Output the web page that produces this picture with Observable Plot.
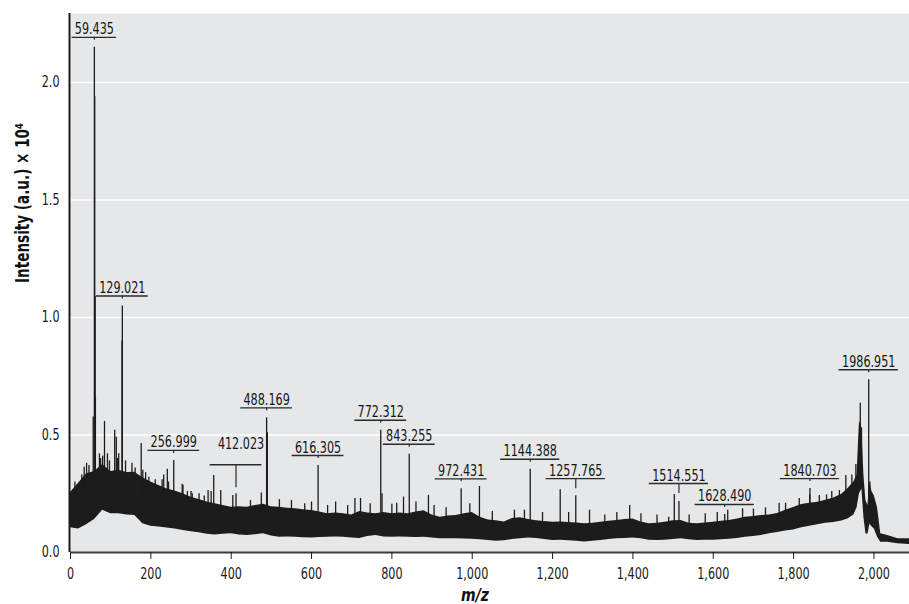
<!DOCTYPE html>
<html>
<head>
<meta charset="utf-8">
<script src="https://cdn.jsdelivr.net/npm/d3@7"></script>
<script src="https://cdn.jsdelivr.net/npm/@observablehq/plot@0.6"></script>
<style>
  html, body { margin: 0; padding: 0; background: #ffffff; }
  #chart svg { display: block; }
</style>
</head>
<body>
<div id="chart"></div>
<script>
// Noise band of the spectrum: lower and upper edge of the dense signal, by m/z
const bandMz = [0,20,40,60,80,100,120,140,160,180,200,220,240,260,280,300,320,340,360,380,400,420,440,460,480,500,520,540,560,580,600,620,640,660,680,700,720,740,760,780,800,820,840,860,880,900,920,940,960,980,1000,1020,1040,1060,1080,1100,1120,1140,1160,1180,1200,1220,1240,1260,1280,1300,1320,1340,1360,1380,1400,1420,1440,1460,1480,1500,1520,1540,1560,1580,1600,1620,1640,1660,1680,1700,1720,1740,1760,1780,1800,1820,1840,1860,1880,1900,1920,1935,1950,1958,1964,1970,1975,1980,1985,1990,1995,2001,2009,2017,2034,2060,2089];
const bandLow = [0.105,0.100,0.118,0.140,0.180,0.165,0.165,0.160,0.157,0.122,0.112,0.108,0.104,0.100,0.094,0.088,0.084,0.078,0.074,0.078,0.080,0.074,0.072,0.076,0.080,0.070,0.065,0.066,0.065,0.063,0.062,0.064,0.065,0.066,0.065,0.062,0.060,0.068,0.072,0.066,0.065,0.066,0.065,0.064,0.065,0.062,0.058,0.058,0.058,0.057,0.056,0.054,0.051,0.048,0.050,0.055,0.058,0.062,0.060,0.055,0.051,0.052,0.050,0.048,0.045,0.048,0.051,0.055,0.058,0.060,0.062,0.058,0.052,0.051,0.052,0.055,0.058,0.054,0.051,0.052,0.052,0.054,0.056,0.060,0.065,0.068,0.072,0.080,0.085,0.092,0.096,0.105,0.112,0.118,0.124,0.128,0.134,0.143,0.160,0.190,0.250,0.270,0.150,0.080,0.078,0.120,0.110,0.100,0.065,0.044,0.044,0.037,0.034];
const bandHigh = [0.255,0.295,0.335,0.345,0.375,0.345,0.350,0.340,0.342,0.318,0.300,0.285,0.270,0.262,0.250,0.235,0.226,0.215,0.207,0.200,0.193,0.195,0.193,0.200,0.205,0.195,0.193,0.188,0.186,0.182,0.179,0.172,0.165,0.168,0.165,0.160,0.175,0.168,0.165,0.170,0.165,0.168,0.165,0.172,0.178,0.160,0.150,0.155,0.157,0.165,0.170,0.150,0.138,0.135,0.130,0.145,0.148,0.140,0.135,0.132,0.129,0.130,0.128,0.126,0.122,0.125,0.129,0.133,0.136,0.140,0.143,0.130,0.122,0.125,0.129,0.135,0.136,0.125,0.122,0.126,0.129,0.133,0.136,0.143,0.150,0.153,0.157,0.160,0.166,0.180,0.192,0.204,0.210,0.214,0.222,0.232,0.248,0.271,0.300,0.330,0.560,0.530,0.330,0.220,0.200,0.300,0.260,0.240,0.190,0.080,0.072,0.058,0.058];

// Labelled peaks (m/z) and their apex intensities (a.u. × 10^4)
const peakMz = [59.435,129.021,256.999,412.023,488.169,616.305,772.312,843.255,972.431,1144.388,1257.765,1514.551,1628.490,1840.703,1986.951];
const peakHeight = [2.150,1.049,0.392,0.250,0.573,0.370,0.520,0.418,0.271,0.354,0.242,0.217,0.162,0.272,0.735];

// Further unlabelled spikes standing out of the noise band
const spikeMz = [11,28,34,40,46,56.5,60.3,61.3,62,72,75,80,84.6,92,97,110,114,117,120,128.2,137,153,161,176,180,187,195,211,228,232,241,244,278,280,291,300,303,320,333,342.5,350,356.5,374,404,448,475,490,520,550,583,600,640,660,690,708,722,746,775.5,800,812,829,860,891,905,935,994,1018,1050,1105,1130,1175,1219,1240,1292,1330,1360,1392,1420,1460,1489,1503,1540,1580,1610,1636,1673,1700,1730,1764,1780,1798,1814,1840,1864,1882,1895,1914,1930,1945,1955,1966,1969,1990];
const spikeTop = [0.300,0.330,0.363,0.380,0.370,0.577,1.940,1.090,0.660,0.420,0.400,0.410,0.558,0.420,0.390,0.520,0.490,0.400,0.420,0.900,0.390,0.380,0.360,0.464,0.350,0.340,0.320,0.310,0.310,0.330,0.354,0.300,0.290,0.286,0.260,0.260,0.250,0.250,0.240,0.264,0.260,0.328,0.264,0.243,0.221,0.253,0.510,0.225,0.221,0.207,0.215,0.200,0.215,0.200,0.230,0.230,0.207,0.250,0.205,0.210,0.236,0.215,0.243,0.200,0.190,0.207,0.281,0.175,0.180,0.180,0.170,0.267,0.170,0.180,0.160,0.170,0.200,0.165,0.160,0.150,0.247,0.160,0.165,0.170,0.180,0.186,0.185,0.190,0.210,0.210,0.190,0.230,0.245,0.243,0.245,0.260,0.264,0.328,0.330,0.375,0.635,0.530,0.300];

// Axis ticks
const xTicks = [0,200,400,600,800,1000,1200,1400,1600,1800,2000];
const yTicks = [0,0.5,1,1.5,2];

const W = 909, H = 604;
const M = {left: 70, right: 0, top: 13, bottom: 52};
const xDomain = [0, 2088.5], yDomain = [0, 2.294];
const pxPerMz = (W - M.left - M.right) / (xDomain[1] - xDomain[0]);
const pxPerY = (H - M.top - M.bottom) / (yDomain[1] - yDomain[0]);

const ink = "#1c1c1c";
const font = "'Liberation Sans Narrow', 'DejaVu Sans Condensed', 'Arial Narrow', sans-serif";

const band = bandMz.map((mz, i) => ({mz, lo: bandLow[i], hi: bandHigh[i]}));

// middle of the noise band at a given m/z, so spikes rise out of the band
const bis = d3.bisector(d => d.mz).left;
function bandMid(mz) {
  const i = Math.max(1, Math.min(band.length - 1, bis(band, mz)));
  const a = band[i - 1], b = band[i];
  const t = (mz - a.mz) / (b.mz - a.mz);
  return ((a.lo + a.hi) / 2) * (1 - t) + ((b.lo + b.hi) / 2) * t;
}

const spikes = spikeMz.map((mz, i) => ({mz, top: spikeTop[i]}))
  .concat(peakMz.map((mz, i) => ({mz, top: peakHeight[i]})))
  .map(d => ({...d, base: bandMid(d.mz)}));

// Leader geometry for the peak annotations (pixels): lift of the bar above the apex, leader tick length
const leader = new Map([
  [412.023, {lift: 29, tick: 23, textLift: 16, shift: 5}],
  [1257.765, {lift: 17, tick: 10}],
  [1514.551, {lift: 18, tick: 10}]
]);
const labels = peakMz.map((mz, i) => {
  const g = Object.assign({lift: 10, tick: 3, textLift: 3, shift: 0}, leader.get(mz) || {});
  const text = d3.format(".3f")(mz);
  const half = 3.7 * text.length;
  const lineY = peakHeight[i] + g.lift / pxPerY;
  return {
    mz, text, lineY,
    tickY: lineY - g.tick / pxPerY,
    textY: lineY + g.textLift / pxPerY,
    textX: mz + g.shift / pxPerMz,
    x1: mz - half / pxPerMz, x2: mz + half / pxPerMz
  };
});

const chart = Plot.plot({
  width: W, height: H,
  marginLeft: M.left, marginRight: M.right, marginTop: M.top, marginBottom: M.bottom,
  x: {domain: xDomain},
  y: {domain: yDomain},
  style: {fontFamily: font, fontSize: "15px", color: "#1a1a1a", background: "#ffffff", overflow: "visible"},
  marks: [
    Plot.frame({fill: "#e6e7e9", stroke: null}),
    Plot.ruleY(yTicks.filter(d => d > 0), {stroke: "#ffffff", strokeWidth: 1.5}),
    Plot.areaY(band, {x: "mz", y1: "lo", y2: "hi", fill: ink}),
    Plot.ruleX(spikes, {x: "mz", y1: "base", y2: "top", stroke: ink, strokeWidth: 1.3}),
    // peak annotations
    Plot.ruleY(labels, {y: "lineY", x1: "x1", x2: "x2", stroke: "#2a2a2a", strokeWidth: 1.4}),
    Plot.ruleX(labels, {x: "mz", y1: "tickY", y2: "lineY", stroke: "#2a2a2a", strokeWidth: 1.2}),
    Plot.text(labels, {x: "textX", y: "textY", text: "text", lineAnchor: "bottom", fontSize: 15, fill: "#151515"}),
    // axes
    Plot.ruleY([0], {stroke: "#3c3c3c", strokeWidth: 2}),
    Plot.ruleX([0], {stroke: "#1a1a1a", strokeWidth: 2, dx: -1}),
    Plot.axisX({ticks: xTicks, tickFormat: d3.format(","), tickSize: 7, tickPadding: 9, label: null, fontSize: 15}),
    Plot.axisY({ticks: yTicks, tickFormat: d3.format(".1f"), tickSize: 0, tickPadding: 11, label: null, fontSize: 15}),
    Plot.text(["m/z"], {frameAnchor: "bottom", dy: 48, dx: -15, lineAnchor: "bottom", fontSize: 17, fontWeight: "bold", fontStyle: "italic", fill: "#111", className: "xtitle"}),
    Plot.text(["Intensity (a.u.) × 10⁴"], {frameAnchor: "left", dx: -48, rotate: -90, lineAnchor: "middle", fontSize: 19, fontWeight: "bold", fill: "#111", className: "ytitle"})
  ]
});
document.getElementById("chart").append(chart);

// Condense the lettering to the narrow type of the figure
chart.querySelectorAll("text").forEach(t => {
  const len = t.getComputedTextLength();
  if (!len) return;
  let target = len * 0.83;
  if (t.closest(".ytitle")) target = 160;
  else if (t.closest(".xtitle")) target = 28;
  t.setAttribute("textLength", target.toFixed(1));
  t.setAttribute("lengthAdjust", "spacingAndGlyphs");
});
</script>
</body>
</html>
